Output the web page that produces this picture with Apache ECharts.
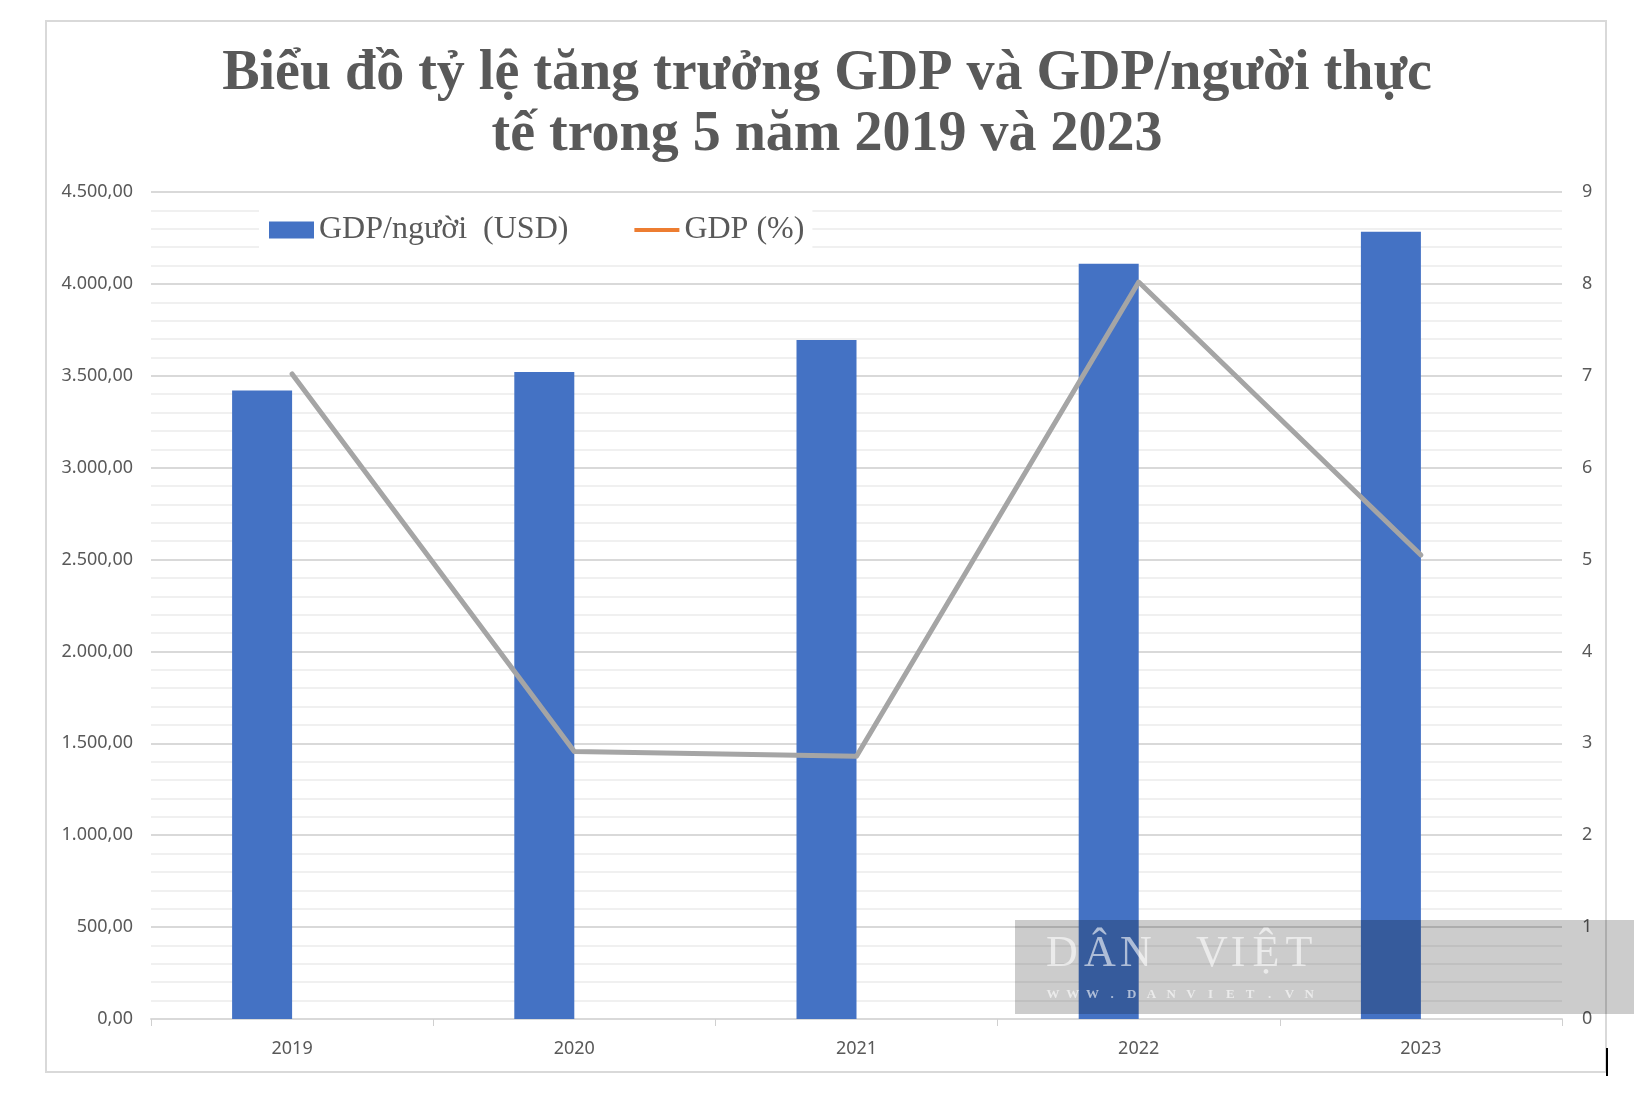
<!DOCTYPE html>
<html>
<head>
<meta charset="utf-8">
<script src="https://cdn.jsdelivr.net/npm/echarts@6/dist/echarts.min.js"></script>
<style>
  html, body { margin: 0; padding: 0; background: #ffffff; }
  #chart { width: 1636px; height: 1112px; }
</style>
</head>
<body>
<div id="chart"></div>
<script>
// ---- Data ----
const categories = ['2019', '2020', '2021', '2022', '2023'];
const gdpPerCapita = [3420, 3521, 3694, 4110, 4284];   // GDP/người (USD)
const gdpGrowth = [7.02, 2.91, 2.86, 8.02, 5.05];       // GDP (%)
const seriesNames = ['GDP/người  (USD)', 'GDP (%)'];
const titleLines = ['Biểu đồ tỷ lệ tăng trưởng GDP và GDP/người thực', 'tế trong 5 năm 2019 và 2023'];

function fmtVN(v) {
  const fixed = Number(v).toFixed(2);
  const parts = fixed.split('.');
  const intPart = parts[0].replace(/\B(?=(\d{3})+(?!\d))/g, '.');
  return intPart + ',' + parts[1];
}

const chart = echarts.init(document.getElementById('chart'), null, { renderer: 'canvas' });

const axisFont = { color: '#595959', fontSize: 18, fontFamily: 'Noto Sans' };
const wmColor = 'rgba(255,255,255,0.6)';
const wmLetters = [['D',1062],['Â',1100],['N',1136],['V',1212],['I',1238],['Ệ',1266],['T',1299]];
const wmUrl = 'WWW.DANVIET.VN';

const graphics = [
  { type: 'rect', z: -10, silent: true,
    shape: { x: 46, y: 21, width: 1560, height: 1051 },
    style: { fill: null, stroke: '#d9d9d9', lineWidth: 2 } },
  { type: 'text', x: 827, y: 75, z: 10,
    style: { text: titleLines[0], textAlign: 'center', textVerticalAlign: 'middle',
      font: 'bold 56px "Liberation Serif"', fill: '#595959' } },
  { type: 'text', x: 827, y: 136, z: 10,
    style: { text: titleLines[1], textAlign: 'center', textVerticalAlign: 'middle',
      font: 'bold 56px "Liberation Serif"', fill: '#595959' } },
  { type: 'rect', z: 100, silent: true,
    shape: { x: 1015, y: 920, width: 619, height: 94 },
    style: { fill: 'rgba(0,0,0,0.2)' } },
  { type: 'rect', z: 101, silent: true,
    shape: { x: 1606, y: 1048, width: 2, height: 28 },
    style: { fill: '#000000' } }
];
wmLetters.forEach(function (l) {
  graphics.push({ type: 'text', x: l[1], y: 976, z: 101,
    style: { text: l[0], textAlign: 'center', textVerticalAlign: 'bottom',
      font: '44px "Liberation Serif"', fill: wmColor } });
});
wmUrl.split('').forEach(function (ch, i) {
  graphics.push({ type: 'text', x: 1053 + i * 19.7, y: 995, z: 101,
    style: { text: ch, textAlign: 'center', textVerticalAlign: 'middle',
      font: 'bold 13px "Liberation Serif"', fill: wmColor } });
});

const lineIcon = 'path://M0,0L0.01,0L0.01,0.01Z M0,6.5L45,6.5L45,10.5L0,10.5Z M44.99,16.99L45,16.99L45,17Z';

const option = {
  backgroundColor: '#ffffff',
  animation: false,
  grid: { left: 151, right: 74, top: 192, bottom: 93, containLabel: false },
  legend: {
    left: 259, top: 205,
    padding: [9, 8, 9, 10],
    backgroundColor: '#ffffff',
    itemWidth: 45, itemHeight: 17, itemGap: 66,
    textStyle: { fontFamily: 'Liberation Serif', fontSize: 32, color: '#595959' },
    data: [
      { name: seriesNames[0], icon: 'rect' },
      { name: seriesNames[1], icon: lineIcon, itemStyle: { color: '#ED7D31', borderWidth: 0 } }
    ]
  },
  xAxis: {
    type: 'category',
    data: categories,
    boundaryGap: true,
    axisLine: { lineStyle: { color: '#d9d9d9', width: 2 } },
    axisTick: { show: true, length: 7, lineStyle: { color: '#d0d0d0', width: 1 } },
    axisLabel: Object.assign({ margin: 21 }, axisFont),
    splitLine: { show: false }
  },
  yAxis: [
    {
      type: 'value', min: 0, max: 4500, interval: 500, position: 'left',
      axisLine: { show: false }, axisTick: { show: false },
      axisLabel: Object.assign({ margin: 18, formatter: fmtVN }, axisFont),
      splitLine: { show: true, lineStyle: { color: '#d9d9d9', width: 2 } },
      minorTick: { show: false, splitNumber: 5 },
      minorSplitLine: { show: true, lineStyle: { color: '#f0f0f0', width: 2 } }
    },
    {
      type: 'value', min: 0, max: 9, interval: 1, position: 'right',
      axisLine: { show: false }, axisTick: { show: false },
      axisLabel: Object.assign({ margin: 20 }, axisFont),
      splitLine: { show: false }
    }
  ],
  series: [
    {
      name: seriesNames[0], type: 'bar', data: gdpPerCapita,
      barWidth: 60, barGap: '0%',
      itemStyle: { color: '#4472C4' }, z: 2
    },
    {
      name: 'spacer', type: 'bar', data: categories.map(function () { return null; }),
      barWidth: 60, barGap: '0%', silent: true, itemStyle: { color: 'transparent' }
    },
    {
      name: seriesNames[1], type: 'line', yAxisIndex: 1, data: gdpGrowth,
      symbol: 'none', showSymbol: false, z: 5,
      lineStyle: { color: '#A5A5A5', width: 5, cap: 'round', join: 'round' },
      itemStyle: { color: '#A5A5A5' }
    }
  ],
  graphic: graphics
};

chart.setOption(option);
</script>
</body>
</html>
